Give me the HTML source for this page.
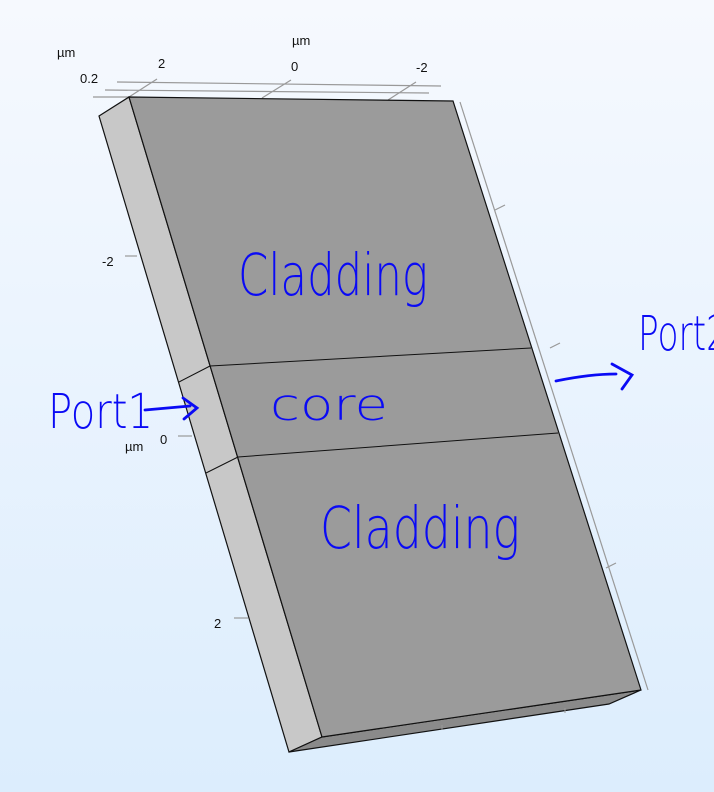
<!DOCTYPE html>
<html><head><meta charset="utf-8"><style>
html,body{margin:0;padding:0;width:714px;height:792px;overflow:hidden;background:linear-gradient(#f6f9fe,#dcedfd);}
svg{display:block}
.ax{font-family:"Liberation Sans",sans-serif;font-size:13px;fill:#111}
.hw{font-family:"DejaVu Sans","Liberation Sans",sans-serif;font-weight:300;fill:#0a0af5}
</style></head><body>
<svg width="714" height="792" viewBox="0 0 714 792">
<g stroke="#999" stroke-width="1.2" fill="none">
<line x1="117" y1="82" x2="441" y2="86"/>
<line x1="105" y1="90" x2="429" y2="93"/>
<line x1="93" y1="97" x2="129" y2="97"/>
<line x1="129" y1="97" x2="157" y2="79"/>
<line x1="262" y1="98" x2="291" y2="80"/>
<line x1="388" y1="100" x2="416" y2="82"/>
<line x1="460" y1="102" x2="648" y2="690"/>
<line x1="495" y1="210" x2="505" y2="205"/>
<line x1="550" y1="348" x2="560" y2="343"/>
<line x1="606" y1="568" x2="616" y2="563"/>
<line x1="125" y1="256" x2="137" y2="256"/>
<line x1="178" y1="436" x2="192" y2="436"/>
<line x1="234" y1="618" x2="248" y2="618"/>
</g>
<polygon points="99,116 129,97 322,737 289,752" fill="#c8c8c8" stroke="#111" stroke-width="1.2"/>
<polygon points="289,752 322,737 641,690 609,704" fill="#8a8a8a" stroke="#111" stroke-width="1.2"/>
<polygon points="129,97 453,101 641,690 322,737" fill="#9b9b9b" stroke="#111" stroke-width="1.2"/>
<g stroke="#111" stroke-width="1">
<line x1="210" y1="366" x2="531" y2="348"/>
<line x1="238" y1="457" x2="558" y2="433"/>
<line x1="179" y1="382" x2="210" y2="366"/>
<line x1="206" y1="473" x2="238" y2="457"/>
</g>
<g stroke="#999" stroke-width="1">
<line x1="442" y1="725" x2="442" y2="730"/>
<line x1="565" y1="708" x2="565" y2="713"/>
</g>
<text class="ax" x="57" y="57">µm</text>
<text class="ax" x="292" y="45">µm</text>
<text class="ax" x="80" y="83">0.2</text>
<text class="ax" x="158" y="68">2</text>
<text class="ax" x="291" y="71">0</text>
<text class="ax" x="416" y="72">-2</text>
<text class="ax" x="102" y="266">-2</text>
<text class="ax" x="160" y="444">0</text>
<text class="ax" x="125" y="451">µm</text>
<text class="ax" x="214" y="628">2</text>
<text class="hw" x="238" y="295" font-size="58" textLength="190" lengthAdjust="spacingAndGlyphs">Cladding</text>
<text class="hw" x="270" y="420" font-size="44" textLength="118" lengthAdjust="spacingAndGlyphs">core</text>
<text class="hw" x="320" y="548" font-size="58" textLength="200" lengthAdjust="spacingAndGlyphs">Cladding</text>
<text class="hw" x="48" y="428" font-size="48" textLength="105" lengthAdjust="spacingAndGlyphs">Port1</text>
<text class="hw" x="638" y="350" font-size="48" textLength="90" lengthAdjust="spacingAndGlyphs">Port2</text>
<g stroke="#0a0af5" stroke-width="2.8" fill="none" stroke-linecap="round">
<path d="M145 410 L190 406 M183 398 L197 408 L184 419"/>
<path d="M556 381 Q590 374 616 374 M612 364 L632 375 L622 389"/>
</g>
</svg>
</body></html>
